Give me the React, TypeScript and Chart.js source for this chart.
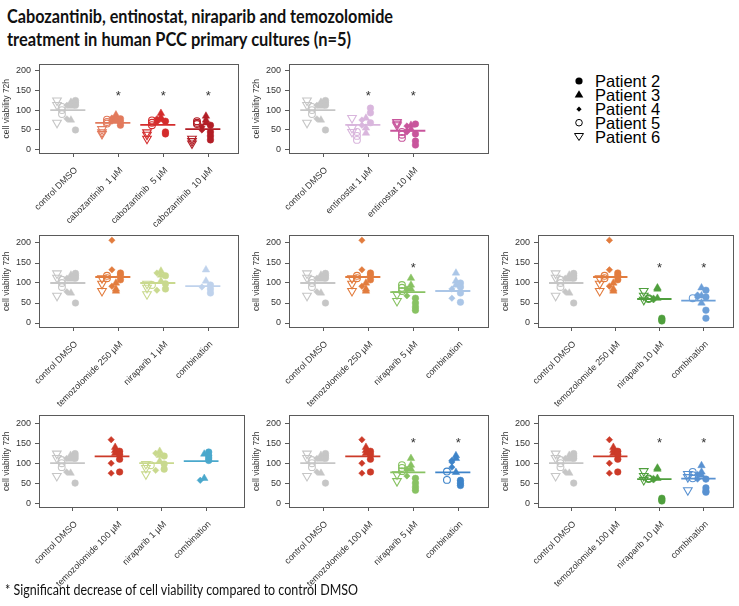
import React, { useEffect, useRef } from "react";
import { Chart, registerables } from "chart.js";
Chart.register(...registerables);

// ---------- DATA (patient order: Patient 2, 3, 4, 5, 6) ----------
const patientNames = ["Patient 2", "Patient 3", "Patient 4", "Patient 5", "Patient 6"];
const yTickValues = [0, 50, 100, 150, 200];

const controlDMSO = [[124, 118, 112, 50], [120, 110, 75], [112, 78], [108, 100, 90], [124, 113, 68]];
const cabozantinib1 = [[78, 70, 62], [88, 80, 74], [80, 72], [76, 70, 66], [52, 44, 40]];
const cabozantinib5 = [[72, 45, 40], [92, 82, 76], [78, 70], [74, 68, 62], [44, 38, 28]];
const cabozantinib10 = [[62, 45, 35, 25], [85, 75, 68], [58, 50], [72, 68, 65], [28, 22, 16]];
const entinostat1 = [[105, 93, 68], [80, 55, 42], [75, 62], [45, 35, 25], [80, 55, 45]];
const entinostat10 = [[65, 40, 22, 12], [62, 52], [60, 48, 45], [45, 38, 30], [70, 66, 62]];
const temozolomide250 = [[125, 118, 108], [100, 85, 80], [207, 133, 92], [118, 112], [112, 98, 80]];
const niraparib1 = [[118, 98, 85], [130, 120, 105], [125, 82], [95], [98, 88, 72]];
const niraparib5 = [[62, 50, 40, 32], [112, 95, 85], [85, 68], [95, 88, 80], [72, 55]];
const niraparib10 = [[12, 8, 5], [88, 85, 62], [62, 58], [62, 60], [80, 68, 58]];
const combNira1Temo250 = [[95, 85, 75], [133, 105], [90], [], []];
const combNira5Temo250 = [[100, 90, 75, 52], [125, 105, 95], [85, 62], [], []];
const combNira10Temo250 = [[82, 65, 32, 12], [88, 68, 50], [70, 65], [62], []];
const temozolomide100 = [[130, 122, 110, 78], [140, 132, 125], [159, 100, 75], [], []];
const combNira1Temo100 = [[128, 119, 113, 107], [123, 62], [57], [], []];
const combNira5Temo100 = [[57, 50, 44], [119, 112, 77], [107, 103, 90], [79, 58], []];
const combNira10Temo100 = [[60, 38, 30, 27], [94, 78, 70], [72, 60], [78, 70, 62], [73, 65, 32]];

// group central lines
const meanControl = 100;
const meansCabozantinib = [68, 63, 52];
const meansEntinostat = [63, 48];
const meanTemo250 = 115;
const meanTemo100 = 117;
const meansNiraparib = [100, 77, 60];
const meansCombTemo250 = [92, 80, 56];
const meansCombTemo100 = [105, 77, 61];

const starYByRow = [143, 146, 160];

// ---------- STYLE ----------
const FONT = "'Liberation Sans', Arial, Helvetica, sans-serif";
const C = {
  ctrl: "#c6c6c6",
  cab1: "#e27a5c",
  cab5: "#d42c2c",
  cab10: "#b21e26",
  ent1: "#d9b6dd",
  ent10: "#c8559c",
  temo250: "#e27c3e",
  temo100: "#cc3a28",
  nira1: "#c9d98e",
  nira5: "#88c262",
  nira10: "#4f9f3d",
  comb1a: "#bfd2ec",
  comb5a: "#abc6e7",
  comb10a: "#6c9fd8",
  comb1b: "#4aa8cc",
  comb5b: "#3e84c9",
  comb10b: "#5891d1",
};
const PATIENT_OFFSET = [0.05, -0.05, -0.14, -0.25, -0.36];
const STYLES = [
  { style: "circle", r: 3.3, rot: 0, open: false },
  { style: "triangle", r: 4.3, rot: 0, open: false },
  { style: "rectRot", r: 3.2, rot: 0, open: false },
  { style: "circle", r: 3.4, rot: 0, open: true },
  { style: "triangle", r: 5, rot: 180, open: true },
];
const LINE_FROM = -0.51;
const LINE_TO = 0.27;
const X_MIN = 0.24;
const PX_PER_GROUP = 45;

type Group = { label: string; values: number[][]; mean: number; color: string; star: boolean };
const grp = (label: string, values: number[][], mean: number, color: string, star: boolean): Group => ({ label, values, mean, color, star });

const ctrlG = () => grp("control DMSO", controlDMSO, meanControl, C.ctrl, false);

type Box = { l: number; t: number; r: number; b: number };
type PanelDef = { left: number; top: number; width: number; height: number; box: Box; yMin: number; yMax: number; starY: number; groups: Group[] };

const ROW = [
  { top: 55, height: 175, t: 64, b: 153, yMin: -8, yMax: 215 },
  { top: 226, height: 182, t: 234, b: 327, yMin: -10, yMax: 219 },
  { top: 406, height: 195, t: 415, b: 507, yMin: -10, yMax: 220 },
];
const COL = [
  { left: 0, width: 250, l: 39, r: 238 },
  { left: 245, width: 250, l: 289, r: 488 },
  { left: 495, width: 244, l: 538, r: 737 },
];
const mk = (ri: number, ci: number, groups: Group[], rOverride?: number): PanelDef => ({
  left: COL[ci].left, width: COL[ci].width, top: ROW[ri].top, height: ROW[ri].height,
  box: { l: COL[ci].l, r: rOverride ?? COL[ci].r, t: ROW[ri].t, b: ROW[ri].b },
  yMin: ROW[ri].yMin, yMax: ROW[ri].yMax, starY: starYByRow[ri], groups,
});

const PANELS: PanelDef[] = [
  mk(0, 0, [ctrlG(),
    grp("cabozantinib  1 µM", cabozantinib1, meansCabozantinib[0], C.cab1, true),
    grp("cabozantinib  5 µM", cabozantinib5, meansCabozantinib[1], C.cab5, true),
    grp("cabozantinib  10 µM", cabozantinib10, meansCabozantinib[2], C.cab10, true)]),
  mk(0, 1, [ctrlG(),
    grp("entinostat 1 µM", entinostat1, meansEntinostat[0], C.ent1, true),
    grp("entinostat 10 µM", entinostat10, meansEntinostat[1], C.ent10, true)]),
  mk(1, 0, [ctrlG(),
    grp("temozolomide 250 µM", temozolomide250, meanTemo250, C.temo250, false),
    grp("niraparib 1 µM", niraparib1, meansNiraparib[0], C.nira1, false),
    grp("combination", combNira1Temo250, meansCombTemo250[0], C.comb1a, false)]),
  mk(1, 1, [ctrlG(),
    grp("temozolomide 250 µM", temozolomide250, meanTemo250, C.temo250, false),
    grp("niraparib 5 µM", niraparib5, meansNiraparib[1], C.nira5, true),
    grp("combination", combNira5Temo250, meansCombTemo250[1], C.comb5a, false)]),
  mk(1, 2, [ctrlG(),
    grp("temozolomide 250 µM", temozolomide250, meanTemo250, C.temo250, false),
    grp("niraparib 10 µM", niraparib10, meansNiraparib[2], C.nira10, true),
    grp("combination", combNira10Temo250, meansCombTemo250[2], C.comb10a, true)]),
  mk(2, 0, [ctrlG(),
    grp("temozolomide 100 µM", temozolomide100, meanTemo100, C.temo100, false),
    grp("niraparib 1 µM", niraparib1, meansNiraparib[0], C.nira1, false),
    grp("combination", combNira1Temo100, meansCombTemo100[0], C.comb1b, false)], 246),
  mk(2, 1, [ctrlG(),
    grp("temozolomide 100 µM", temozolomide100, meanTemo100, C.temo100, false),
    grp("niraparib 5 µM", niraparib5, meansNiraparib[1], C.nira5, true),
    grp("combination", combNira5Temo100, meansCombTemo100[1], C.comb5b, true)]),
  mk(2, 2, [ctrlG(),
    grp("temozolomide 100 µM", temozolomide100, meanTemo100, C.temo100, false),
    grp("niraparib 10 µM", niraparib10, meansNiraparib[2], C.nira10, true),
    grp("combination", combNira10Temo100, meansCombTemo100[2], C.comb10b, true)]),
];

function Panel({ def }: { def: PanelDef }) {
  const ref = useRef<HTMLCanvasElement | null>(null);
  useEffect(() => {
    const canvas = ref.current;
    if (!canvas) return;
    const yAxisW = def.box.l - def.left;
    const xAxisH = def.top + def.height - def.box.b;
    const padTop = def.box.t - def.top;
    const padRight = def.left + def.width - def.box.r;
    const xMax = X_MIN + (def.box.r - def.box.l) / PX_PER_GROUP;

    const datasets: any[] = [];
    def.groups.forEach((g, gi) => {
      const gx = gi + 1;
      datasets.push({
        type: "line",
        data: [{ x: gx + LINE_FROM, y: g.mean }, { x: gx + LINE_TO, y: g.mean }],
        borderColor: g.color,
        borderWidth: 1.8,
        pointRadius: 0,
        fill: false,
        order: 0,
      });
      g.values.forEach((vals, k) => {
        const st = STYLES[k];
        datasets.push({
          type: "scatter",
          label: patientNames[k],
          data: vals.map((v) => ({ x: gx + PATIENT_OFFSET[k], y: v })),
          pointStyle: st.style,
          pointRadius: st.r,
          pointRotation: st.rot,
          pointBackgroundColor: st.open ? "rgba(255,255,255,0)" : g.color,
          pointBorderColor: g.color,
          pointBorderWidth: st.open ? 1.1 : 0.5,
          order: 1,
        });
      });
    });

    const decor = {
      id: "decor",
      afterDraw(chart: any) {
        const ctx = chart.ctx;
        const a = chart.chartArea;
        const xs = chart.scales.x;
        const ys = chart.scales.y;
        ctx.save();
        ctx.strokeStyle = "#5a5a5a";
        ctx.lineWidth = 1;
        ctx.strokeRect(Math.round(a.left) + 0.5, Math.round(a.top) + 0.5, Math.round(a.right - a.left), Math.round(a.bottom - a.top));
        // y title
        ctx.fillStyle = "#333";
        ctx.font = `8.5px ${FONT}`;
        ctx.textAlign = "center";
        ctx.textBaseline = "middle";
        ctx.translate(a.left - 32, (a.top + a.bottom) / 2);
        ctx.rotate(-Math.PI / 2);
        ctx.fillText("cell viability 72h", 0, 0);
        ctx.restore();
        // stars
        ctx.save();
        ctx.fillStyle = "#333";
        ctx.font = `13px ${FONT}`;
        ctx.textAlign = "center";
        ctx.textBaseline = "alphabetic";
        def.groups.forEach((g, gi) => {
          if (!g.star) return;
          const px = xs.getPixelForValue(gi + 1);
          const py = ys.getPixelForValue(def.starY);
          ctx.fillText("*", px, py + 0.57 * 13);
        });
        ctx.restore();
      },
    };

    const chart = new Chart(canvas, {
      type: "scatter",
      data: { datasets },
      options: {
        responsive: false,
        animation: false,
        devicePixelRatio: 1,
        layout: { padding: { left: 0, top: padTop, right: padRight, bottom: 0 } },
        plugins: { legend: { display: false }, tooltip: { enabled: false }, title: { display: false } },
        scales: {
          x: {
            type: "linear",
            min: X_MIN,
            max: xMax,
            afterBuildTicks: (s: any) => {
              s.ticks = def.groups.map((_, i) => ({ value: i + 1 }));
            },
            afterFit: (s: any) => {
              s.height = xAxisH;
            },
            ticks: {
              autoSkip: false,
              minRotation: 45,
              maxRotation: 45,
              padding: 8,
              labelOffset: 3,
              color: "#333",
              font: { family: FONT, size: 9 },
              callback: (v: any) => {
                const g = def.groups[Math.round(Number(v)) - 1];
                return g ? g.label : "";
              },
            },
            grid: { drawOnChartArea: false, drawTicks: true, tickLength: 4, color: "#5a5a5a", tickColor: "#5a5a5a" },
            border: { display: false },
          },
          y: {
            type: "linear",
            min: def.yMin,
            max: def.yMax,
            afterBuildTicks: (s: any) => {
              s.ticks = yTickValues.map((v) => ({ value: v }));
            },
            afterFit: (s: any) => {
              s.width = yAxisW;
            },
            ticks: { padding: 4, color: "#333", font: { family: FONT, size: 9 } },
            grid: { drawOnChartArea: false, drawTicks: true, tickLength: 4, color: "#5a5a5a", tickColor: "#5a5a5a" },
            border: { display: false },
          },
        },
      },
      plugins: [decor],
    } as any);
    return () => chart.destroy();
  }, [def]);
  return (
    <canvas
      ref={ref}
      width={def.width}
      height={def.height}
      style={{ position: "absolute", left: def.left, top: def.top, width: def.width, height: def.height }}
    />
  );
}

function Legend() {
  const tx = 35;
  const base = [22.3, 36.3, 50.3, 64.3, 78.3];
  return (
    <svg style={{ position: "absolute", left: 560, top: 65 }} width={120} height={90}>
      <circle cx={19} cy={16} r={3.6} fill="#000" />
      <polygon points="19,25.3 23.3,32.5 14.7,32.5" fill="#000" />
      <polygon points="19,41.6 21.6,44.2 19,46.8 16.4,44.2" fill="#000" />
      <circle cx={19} cy={57.7} r={3.3} fill="none" stroke="#000" strokeWidth={1} />
      <polygon points="14.5,68.5 23.5,68.5 19,75.5" fill="none" stroke="#000" strokeWidth={1} />
      {patientNames.map((n, i) => (
        <text key={n} x={tx} y={base[i]} fontFamily={FONT} fontSize={16.5} fill="#000">
          {n}
        </text>
      ))}
    </svg>
  );
}

export default function App() {
  return (
    <div style={{ position: "fixed", left: 0, top: 0, width: 739, height: 606, background: "#fff", overflow: "hidden" }}>
      <svg style={{ position: "absolute", left: 0, top: 0 }} width={739} height={60}>
        <text x={7} y={23} fontFamily="Lato, 'Open Sans', sans-serif" fontWeight="bold" fontSize={19.5} fill="#111" textLength={386} lengthAdjust="spacingAndGlyphs">
          Cabozantinib, entinostat, niraparib and temozolomide
        </text>
        <text x={7} y={46} fontFamily="Lato, 'Open Sans', sans-serif" fontWeight="bold" fontSize={19.5} fill="#111" textLength={344} lengthAdjust="spacingAndGlyphs">
          treatment in human PCC primary cultures (n=5)
        </text>
      </svg>
      {PANELS.map((d, i) => (
        <Panel key={i} def={d} />
      ))}
      <Legend />
      <svg style={{ position: "absolute", left: 0, top: 578 }} width={739} height={28}>
        <text x={5} y={17} fontFamily="Lato, 'Open Sans', sans-serif" fontSize={14.5} fill="#111" textLength={353} lengthAdjust="spacingAndGlyphs">
          *  Significant decrease of cell viability compared to control DMSO
        </text>
      </svg>
    </div>
  );
}
